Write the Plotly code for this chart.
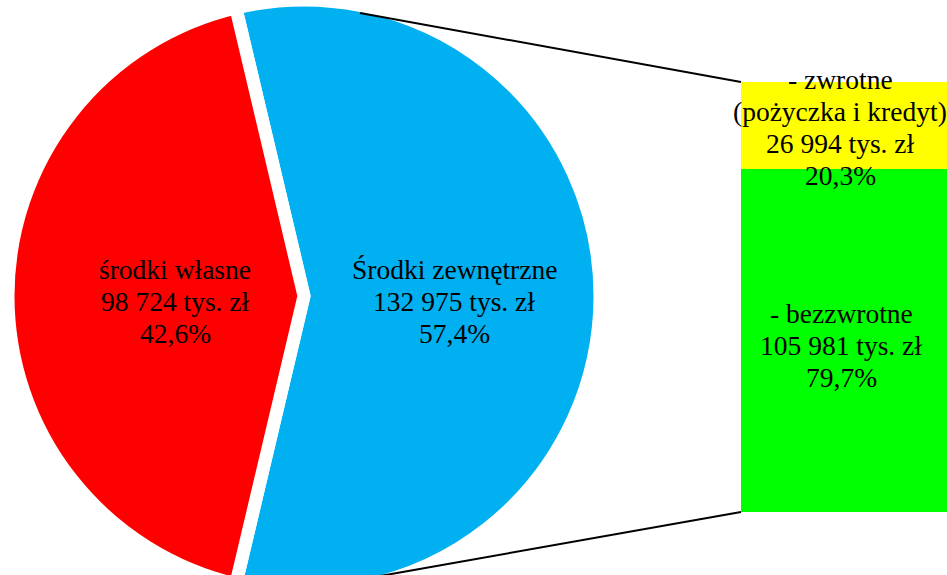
import plotly.graph_objects as go

W, H = 947, 592

# Financing sources, tys. zł
pie_names = ["Środki zewnętrzne", "środki własne"]
pie_values = [132975, 98724]
pie_colors = ["#00B0F0", "#FF0000"]

# Breakdown of external funds, tys. zł (bottom to top)
bar_names = [["- bezzwrotne"], ["- zwrotne", "(pożyczka i kredyt)"]]
bar_values = [105981, 26994]
bar_colors = ["#00FF00", "#FFFF00"]

FONT = dict(family="Liberation Serif, Times New Roman, serif", size=27.5, color="black")
LINE_STEP = 32  # px between text lines


def fmt_amount(v):
    return f"{v:,}".replace(",", " ") + " tys. zł"


def fmt_pct(part, total):
    return f"{100 * part / total:.1f}%".replace(".", ",")


def px_x(x):
    return x / W


def px_y(y):
    return 1 - y / H


fig = go.Figure()

# pie: circle centred at (304, 296) px, radius 296 px
cx, cy, r = 304, 296, 296
fig.add_trace(go.Pie(
    labels=pie_names,
    values=pie_values,
    marker=dict(colors=pie_colors, line=dict(color="white", width=13)),
    sort=False,
    direction="clockwise",
    rotation=90 - 180 * pie_values[0] / sum(pie_values),
    textinfo="none",
    hoverinfo="label+value+percent",
    showlegend=False,
    domain=dict(x=[px_x(cx - r), px_x(cx + r)], y=[0, 1]),
))

# stacked bar for external funds
bar_total = sum(bar_values)
for name, val, col in zip(bar_names, bar_values, bar_colors):
    fig.add_trace(go.Bar(
        x=[0], y=[val],
        name=" ".join(name),
        marker=dict(color=col, line=dict(width=0)),
        width=1,
        showlegend=False,
        hoverinfo="name+y",
    ))

bar_left, bar_top, bar_bottom = 741, 82, 512
fig.update_layout(
    barmode="stack",
    xaxis=dict(domain=[px_x(bar_left), 1], range=[-0.5, 0.5], visible=False, fixedrange=True),
    yaxis=dict(domain=[px_y(bar_bottom), px_y(bar_top)], range=[0, bar_total],
               visible=False, fixedrange=True),
)

# text blocks: (centre x px, first line centre y px, lines)
pie_total = sum(pie_values)
blocks = [
    (175, 269, [pie_names[1], fmt_amount(pie_values[1]), fmt_pct(pie_values[1], pie_total)]),
    (454, 269, [pie_names[0], fmt_amount(pie_values[0]), fmt_pct(pie_values[0], pie_total)]),
    (840, 79, bar_names[1] + [fmt_amount(bar_values[1]), fmt_pct(bar_values[1], bar_total)]),
    (841, 313, bar_names[0] + [fmt_amount(bar_values[0]), fmt_pct(bar_values[0], bar_total)]),
]
annotations = []
for x0, y0, lines in blocks:
    for i, line in enumerate(lines):
        annotations.append(dict(
            x=px_x(x0), y=px_y(y0 + i * LINE_STEP), xref="paper", yref="paper",
            text=line, showarrow=False, font=FONT,
            xanchor="center", yanchor="middle",
        ))

# connector lines from the pie to the bar
shapes = [
    dict(type="line", xref="paper", yref="paper",
         x0=px_x(360), y0=px_y(13), x1=px_x(bar_left), y1=px_y(bar_top),
         line=dict(color="black", width=2)),
    dict(type="line", xref="paper", yref="paper",
         x0=px_x(380), y0=px_y(576), x1=px_x(bar_left), y1=px_y(bar_bottom),
         line=dict(color="black", width=2)),
]

fig.update_layout(
    width=W, height=H,
    margin=dict(l=0, r=0, t=0, b=0),
    paper_bgcolor="white", plot_bgcolor="white",
    annotations=annotations, shapes=shapes,
    bargap=0,
)

fig.write_html("out.html", config={"displayModeBar": False})
